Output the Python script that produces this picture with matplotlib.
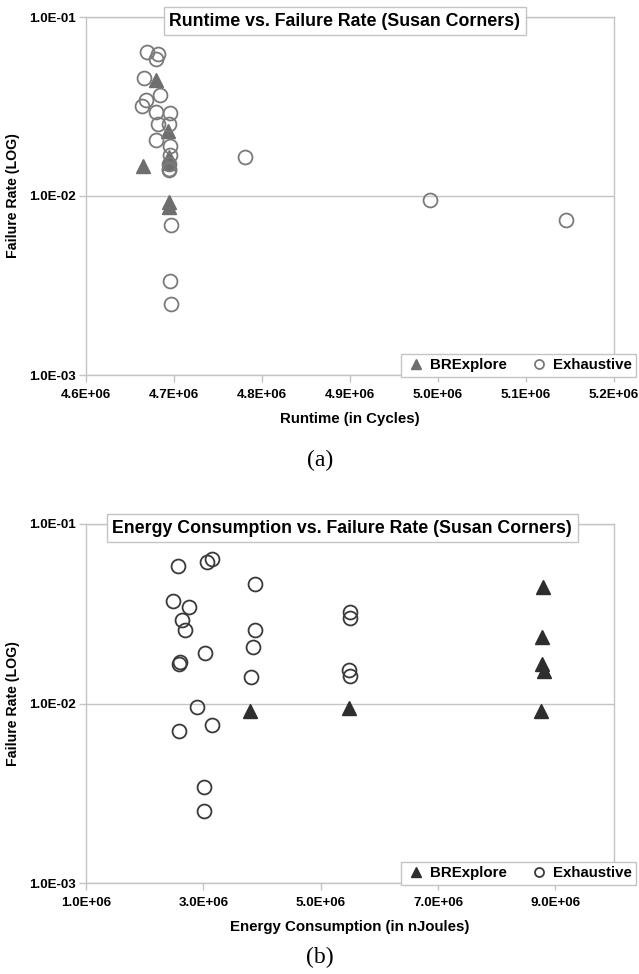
import matplotlib
matplotlib.use("Agg")
import matplotlib.pyplot as plt
from matplotlib.ticker import FixedLocator, FixedFormatter, NullLocator

plt.rcParams['font.family'] = ['Liberation Sans', 'DejaVu Sans']

# ---------------- data (a) runtime ----------------
rt_brex_x = [4.680e6, 4.693e6, 4.665e6, 4.694e6, 4.694e6, 4.694e6, 4.694e6]
rt_brex_y = [0.0444, 0.0230, 0.0148, 0.0165, 0.0152, 0.0092, 0.0087]
rt_exh_x = [4.669e6, 4.682e6, 4.680e6, 4.666e6, 4.684e6, 4.668e6, 4.664e6, 4.680e6,
            4.695e6, 4.682e6, 4.694e6, 4.680e6, 4.695e6, 4.695e6, 4.694e6, 4.694e6,
            4.694e6, 4.781e6, 4.697e6, 4.696e6, 4.697e6, 4.991e6, 5.146e6]
rt_exh_y = [0.0639, 0.0618, 0.0582, 0.0459, 0.0369, 0.0346, 0.0317, 0.0294,
            0.0289, 0.0254, 0.0254, 0.0205, 0.0190, 0.0169, 0.0151, 0.0140,
            0.0142, 0.0165, 0.00692, 0.00336, 0.00249, 0.00944, 0.00738]

# ---------------- data (b) energy ----------------
en_brex_x = [3.791e6, 5.482e6, 8.784e6, 8.773e6, 8.773e6, 8.801e6, 8.757e6]
en_brex_y = [0.00908, 0.00940, 0.0444, 0.0236, 0.0165, 0.0152, 0.00908]
en_exh_x = [2.571e6, 3.054e6, 3.150e6, 3.889e6, 2.476e6, 2.758e6, 2.629e6, 2.685e6,
            3.877e6, 3.848e6, 5.494e6, 5.494e6, 3.031e6, 2.600e6, 2.583e6, 3.809e6,
            5.482e6, 5.506e6, 2.884e6, 2.588e6, 3.140e6, 3.014e6, 3.003e6]
en_exh_y = [0.0583, 0.0617, 0.0641, 0.0461, 0.0371, 0.0346, 0.0292, 0.0257,
            0.0257, 0.0207, 0.0323, 0.0298, 0.0191, 0.0171, 0.0166, 0.0141,
            0.0153, 0.0142, 0.0096, 0.00705, 0.00759, 0.00344, 0.00253]

y_ticks = [1e-3, 1e-2, 1e-1]
y_labels = ["1.0E-03", "1.0E-02", "1.0E-01"]
rt_ticks = [4.6e6, 4.7e6, 4.8e6, 4.9e6, 5.0e6, 5.1e6, 5.2e6]
rt_labels = ["4.6E+06", "4.7E+06", "4.8E+06", "4.9E+06", "5.0E+06", "5.1E+06", "5.2E+06"]
en_ticks = [1e6, 3e6, 5e6, 7e6, 9e6]
en_labels = ["1.0E+06", "3.0E+06", "5.0E+06", "7.0E+06", "9.0E+06"]

W, H = 639, 974
fig = plt.figure(figsize=(W / 100, H / 100), dpi=100)

def axes_px(left, top, right, bottom):
    return fig.add_axes([left / W, 1 - bottom / H, (right - left) / W, (bottom - top) / H])

ax1 = axes_px(86, 17, 614, 375)
ax2 = axes_px(86, 524, 614, 883)

grid_c = "#c4c4c4"

def style(ax, xt, xl, xlim, title, xlabel, title_x):
    ax.set_yscale('log')
    ax.set_ylim(1e-3, 1e-1)
    ax.set_xlim(*xlim)
    ax.yaxis.set_major_locator(FixedLocator(y_ticks))
    ax.yaxis.set_major_formatter(FixedFormatter(y_labels))
    ax.yaxis.set_minor_locator(NullLocator())
    ax.xaxis.set_major_locator(FixedLocator(xt))
    ax.xaxis.set_major_formatter(FixedFormatter(xl))
    for s in ax.spines.values():
        s.set_color(grid_c)
        s.set_linewidth(1.0)
    ax.tick_params(axis='both', colors=grid_c, labelcolor='black', length=5, width=1.0,
                   labelsize=9.6, pad=2)
    for lab in ax.get_xticklabels() + ax.get_yticklabels():
        lab.set_fontweight('bold')
    ax.tick_params(axis='x', pad=5)
    ax.grid(axis='y', which='major', color=grid_c, linewidth=1.0)
    ax.set_axisbelow(True)
    ax.set_xlabel(xlabel, fontsize=10.8, fontweight='bold', labelpad=8)
    ax.set_ylabel("Failure Rate (LOG)", fontsize=10.2, fontweight='bold', labelpad=7)
    ax.text(title_x, 0.988, title, transform=ax.transAxes, ha='center', va='center',
            fontsize=12.8, fontweight='bold', zorder=5,
            bbox=dict(boxstyle='square,pad=0.32', facecolor='white', edgecolor=grid_c, linewidth=1.0))

style(ax1, rt_ticks, rt_labels, (4.6e6, 5.2e6), "Runtime vs. Failure Rate (Susan Corners)",
      "Runtime (in Cycles)", 0.49)
style(ax2, en_ticks, en_labels, (1e6, 1e7), "Energy Consumption vs. Failure Rate (Susan Corners)",
      "Energy Consumption (in nJoules)", 0.485)

def plot_series(ax, bx, by, ex, ey, tri_c, circ_c):
    ax.plot(bx, by, linestyle='none', marker='^', markersize=10, color=tri_c,
            markeredgecolor=tri_c, label="BRExplore", zorder=3)
    ax.plot(ex, ey, linestyle='none', marker='o', markersize=10, markerfacecolor='none',
            markeredgecolor=circ_c, markeredgewidth=1.3, label="Exhaustive", zorder=3)
    leg = ax.legend(loc='lower right', bbox_to_anchor=(1.0417, -0.005), ncol=2,
                    frameon=True, fancybox=False, edgecolor=grid_c, framealpha=1,
                    prop={'weight': 'bold', 'size': 10.8}, markerscale=0.65,
                    handlelength=1.4, handletextpad=0.2, columnspacing=1.47,
                    borderpad=0.3, borderaxespad=0)
    leg.get_frame().set_linewidth(1.0)
    leg.set_zorder(6)

plot_series(ax1, rt_brex_x, rt_brex_y, rt_exh_x, rt_exh_y, "#6e6e6e", "#7a7a7a")
plot_series(ax2, en_brex_x, en_brex_y, en_exh_x, en_exh_y, "#2e2e2e", "#3a3a3a")

fig.text(320 / W, 1 - 460 / H, "(a)", ha='center', va='center', fontsize=17,
         family=['Liberation Serif', 'DejaVu Serif'])
fig.text(320 / W, 1 - 957 / H, "(b)", ha='center', va='center', fontsize=17,
         family=['Liberation Serif', 'DejaVu Serif'])

fig.savefig("out.png", dpi=100)
